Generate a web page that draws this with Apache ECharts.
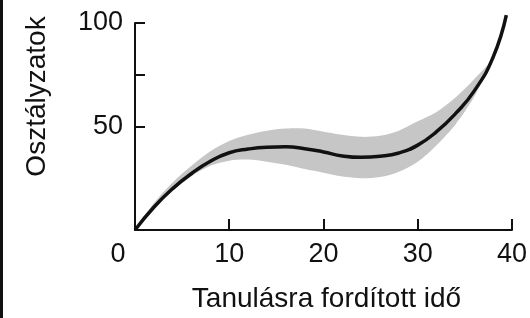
<!DOCTYPE html>
<html>
<head>
<meta charset="utf-8">
<script src="https://cdn.jsdelivr.net/npm/echarts@6/dist/echarts.min.js"></script>
<style>
  html, body { margin: 0; padding: 0; background: #fff; }
  #chart { width: 530px; height: 318px; }
</style>
</head>
<body>
<div id="chart"></div>
<script>
// values
const studyTime = [0, 2, 4, 6, 8, 10, 12, 14, 16, 18, 20, 22, 24, 26, 28, 30, 32, 34, 36, 38, 39.4];
const grade = [0, 11, 20, 27.3, 33.2, 37.3, 39.1, 40, 40.2, 39.3, 37.7, 35.8, 35.1, 35.6, 37.2, 41, 47.5, 56.2, 67.2, 83.5, 103.8];
const bandLower = [0, 10.5, 19.2, 26, 31, 33.5, 34, 33, 31.5, 29.5, 27.7, 25.8, 25, 25.6, 28.2, 33, 41, 51, 64.5, 83.5, 103.8];
const bandUpper = [0, 13, 23, 31, 38, 43, 46, 48, 49, 49, 47.5, 46, 45, 45.5, 48, 52.5, 57, 64, 73, 83.5, 103.8];
const xTicks = [10, 20, 30, 40];
const xLabels = [0, 10, 20, 30, 40];
const yTicks = [50, 75, 100];
const yLabels = [50, 100];

const FONT = '"Liberation Sans", Arial, sans-serif';

const chart = echarts.init(document.getElementById('chart'));

const pairs = (ys) => studyTime.map((x, i) => [x, ys[i]]);

// shaded band drawn as one polygon through the axes' scales
function renderBand(params, api) {
  const upper = studyTime.map((x, i) => api.coord([x, bandUpper[i]]));
  const lower = studyTime.map((x, i) => api.coord([x, bandLower[i]])).reverse();
  return {
    type: 'polygon',
    shape: { points: upper.concat(lower), smooth: 0.3 },
    style: { fill: '#c6c6c6', stroke: null }
  };
}

const option = {
  backgroundColor: '#fff',
  animation: false,
  textStyle: { fontFamily: FONT },
  grid: { left: 135, right: 18, top: 23, bottom: 87 },
  xAxis: {
    type: 'value',
    min: 0,
    max: 40,
    interval: 10,
    name: 'Tanulásra fordított idő',
    nameLocation: 'middle',
    nameGap: 55,
    nameTextStyle: { fontSize: 28, color: '#111', fontFamily: FONT, padding: [0, 0, 0, 6] },
    splitLine: { show: false },
    axisLine: { lineStyle: { color: '#111', width: 2 } },
    axisTick: { inside: true, length: 11, lineStyle: { color: '#111', width: 2 }, customValues: xTicks },
    axisLabel: {
      customValues: xLabels,
      fontSize: 27,
      color: '#111',
      margin: 11,
      formatter: (v) => (v === 0 ? '{o|0}' : String(v)),
      rich: { o: { fontSize: 27, color: '#111', padding: [0, 34, 0, 0] } }
    }
  },
  yAxis: {
    type: 'value',
    min: 0,
    max: 100,
    interval: 25,
    name: 'Osztályzatok',
    nameLocation: 'middle',
    nameGap: 84,
    nameTextStyle: { fontSize: 28, color: '#111', fontFamily: FONT, padding: [0, 0, 0, 60] },
    splitLine: { show: false },
    axisLine: { lineStyle: { color: '#111', width: 2 } },
    axisTick: { inside: true, length: 10, lineStyle: { color: '#111', width: 2 }, customValues: yTicks },
    axisLabel: { customValues: yLabels, fontSize: 27, color: '#111', margin: 12 }
  },
  graphic: [
    { type: 'rect', left: 0, top: 0, shape: { width: 3, height: 318 }, style: { fill: '#111' } }
  ],
  series: [
    {
      type: 'custom',
      renderItem: renderBand,
      data: [0],
      clip: false,
      silent: true,
      z: 1
    },
    {
      type: 'line',
      data: pairs(grade),
      smooth: 0.5,
      showSymbol: false,
      clip: false,
      lineStyle: { color: '#111', width: 3.5 },
      silent: true,
      z: 3
    }
  ]
};

chart.setOption(option);
</script>
</body>
</html>
